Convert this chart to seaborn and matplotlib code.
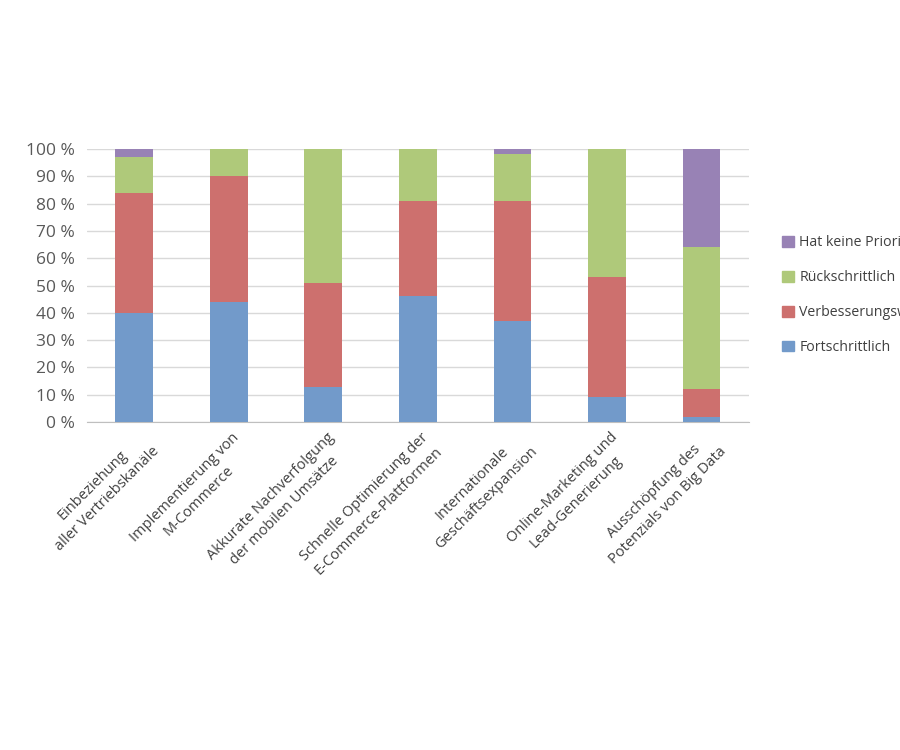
import pandas as pd
import numpy as np
import matplotlib
matplotlib.use('Agg')
import matplotlib.pyplot as plt
from matplotlib.patches import Patch
import seaborn as sns

# Daten (Anteile in %)
kategorien = [
    "Einbeziehung\naller Vertriebskanäle",
    "Implementierung von\nM-Commerce",
    "Akkurate Nachverfolgung\nder mobilen Umsätze",
    "Schnelle Optimierung der\nE-Commerce-Plattformen",
    "Internationale\nGeschäftsexpansion",
    "Online-Marketing und\nLead-Generierung",
    "Ausschöpfung des\nPotenzials von Big Data",
]
fortschrittlich = [40, 44, 13, 46, 37, 9, 2]
verbesserungswuerdig = [44, 46, 38, 35, 44, 44, 10]
rueckschrittlich = [13, 10, 49, 19, 17, 47, 52]
keine_prioritaet = [3, 0, 0, 0, 2, 0, 36]

serien = ["Fortschrittlich", "Verbesserungswürdig", "Rückschrittlich", "Hat keine Priorität"]
farben = ["#729ACA", "#CD706E", "#AFC97A", "#9882B5"]

df = pd.DataFrame({
    "Kategorie": kategorien,
    "Fortschrittlich": fortschrittlich,
    "Verbesserungswürdig": verbesserungswuerdig,
    "Rückschrittlich": rueckschrittlich,
    "Hat keine Priorität": keine_prioritaet,
})
# kumulierte Summen für gestapelte Balken
kum = df[serien].cumsum(axis=1)
kum["Kategorie"] = df["Kategorie"]

sns.set_style("white")
plt.rcParams['font.family'] = ['Open Sans', 'DejaVu Sans']

fig = plt.figure(figsize=(9, 7.5), dpi=100)
ax = fig.add_axes([0.0967, 0.4373, 0.7353, 0.364])

# von oben nach unten zeichnen, damit die unteren Segmente die oberen überdecken
for name, farbe in zip(serien[::-1], farben[::-1]):
    sns.barplot(data=kum, x="Kategorie", y=name, color=farbe, width=0.4,
                saturation=1, linewidth=0, ax=ax, zorder=3)

ax.set_ylim(0, 100)
ax.set_xlim(-0.5, len(kategorien) - 0.5)
ax.set_yticks(range(0, 101, 10))
ax.set_yticklabels([f"{v} %" for v in range(0, 101, 10)], fontsize=12.5, color="#595959")
ax.yaxis.grid(True, color="#D9D9D9", linewidth=1, zorder=0)
ax.set_axisbelow(True)
ax.set_xlabel("")
ax.set_ylabel("")

for s in ["top", "right", "left"]:
    ax.spines[s].set_visible(False)
ax.spines["bottom"].set_color("#BFBFBF")
ax.tick_params(axis="y", length=5, color="#D9D9D9", pad=4)

# Teilstriche zwischen den Kategorien
ax.set_xticks(np.arange(-0.5, len(kategorien)), minor=True)
ax.tick_params(axis="x", which="minor", length=5, color="#BFBFBF", direction="out")
ax.tick_params(axis="x", which="major", length=0, pad=2)
ax.set_xticks(range(len(kategorien)))
ax.set_xticklabels(kategorien, rotation=45, ha="right", va="top",
                   rotation_mode="anchor", multialignment="center",
                   linespacing=1.45, fontsize=10.5, color="#404040")
for lbl in ax.get_xticklabels():
    lbl.set_transform(lbl.get_transform() + matplotlib.transforms.ScaledTranslation(0.03, -0.05, fig.dpi_scale_trans))

handles = [Patch(color=c, label=n) for n, c in zip(serien[::-1], farben[::-1])]
fig.legend(handles=handles, loc="upper left", bbox_to_anchor=(0.855, 0.703),
           frameon=False, fontsize=10.2, handlelength=0.8, handleheight=0.8,
           labelspacing=1.4, handletextpad=0.4, labelcolor="#404040")

fig.savefig("out.png", dpi=100)
